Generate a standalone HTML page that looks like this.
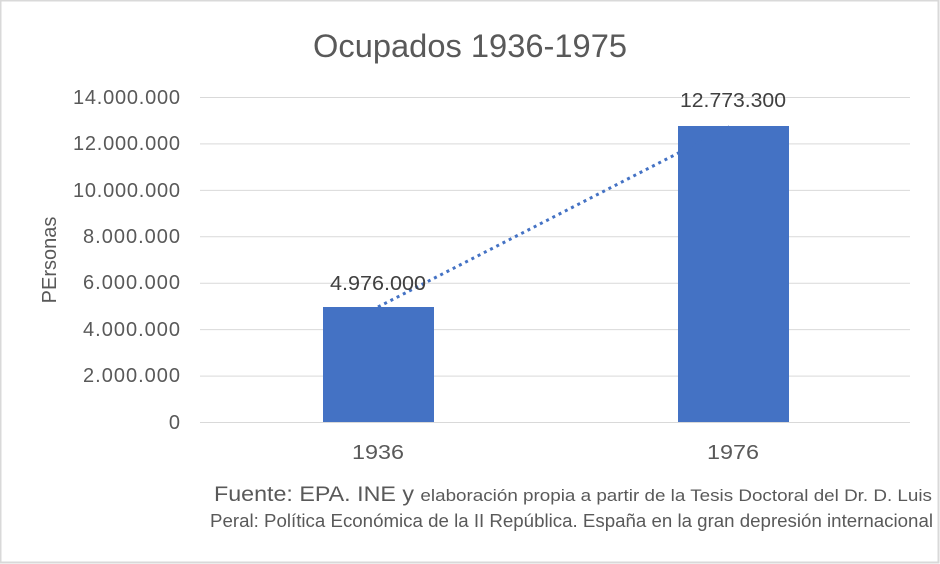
<!DOCTYPE html>
<html><head><meta charset="utf-8"><style>
html,body{margin:0;padding:0;background:#fff;}
svg{display:block;font-family:"Liberation Sans",sans-serif;}
</style></head><body>
<svg width="940" height="564" viewBox="0 0 940 564">
<rect x="0.5" y="0.5" width="938" height="562" fill="#fff" stroke="#d9d9d9" stroke-width="2"/>
<text x="470" y="57" text-anchor="middle" font-size="32" fill="#595959" textLength="314" lengthAdjust="spacingAndGlyphs">Ocupados 1936-1975</text>
<g stroke="#d9d9d9" stroke-width="1">
<line x1="200" x2="910" y1="97.5" y2="97.5"/>
<line x1="200" x2="910" y1="143.9" y2="143.9"/>
<line x1="200" x2="910" y1="190.4" y2="190.4"/>
<line x1="200" x2="910" y1="236.8" y2="236.8"/>
<line x1="200" x2="910" y1="283.2" y2="283.2"/>
<line x1="200" x2="910" y1="329.6" y2="329.6"/>
<line x1="200" x2="910" y1="376.1" y2="376.1"/>
<line x1="200" x2="910" y1="422.5" y2="422.5"/>
</g>
<g font-size="20" fill="#595959" text-anchor="end" lengthAdjust="spacingAndGlyphs">
<text x="180" y="104" textLength="107">14.000.000</text>
<text x="180" y="150" textLength="107">12.000.000</text>
<text x="180" y="197" textLength="107">10.000.000</text>
<text x="180" y="243" textLength="97">8.000.000</text>
<text x="180" y="289" textLength="97">6.000.000</text>
<text x="180" y="336" textLength="97">4.000.000</text>
<text x="180" y="382" textLength="97">2.000.000</text>
<text x="180" y="429">0</text>
</g>
<text transform="translate(56,260) rotate(-90)" text-anchor="middle" font-size="20" fill="#595959">PErsonas</text>
<rect x="323" y="307" width="111" height="115" fill="#4472c4"/>
<rect x="678" y="126" width="111" height="296" fill="#4472c4"/>
<line x1="378" y1="307" x2="733" y2="125" stroke="#4472c4" stroke-width="3" stroke-dasharray="3,4"/>
<text x="378" y="290" text-anchor="middle" font-size="20" fill="#404040" textLength="96" lengthAdjust="spacingAndGlyphs">4.976.000</text>
<text x="733" y="107" text-anchor="middle" font-size="20" fill="#404040" textLength="106" lengthAdjust="spacingAndGlyphs">12.773.300</text>
<text x="378" y="459" text-anchor="middle" font-size="20" fill="#595959" textLength="52" lengthAdjust="spacingAndGlyphs">1936</text>
<text x="733" y="459" text-anchor="middle" font-size="20" fill="#595959" textLength="52" lengthAdjust="spacingAndGlyphs">1976</text>
<text x="214" y="501" font-size="21" fill="#595959" textLength="718" lengthAdjust="spacingAndGlyphs">Fuente: EPA. INE y <tspan font-size="17">elaboración propia a partir de la Tesis Doctoral del Dr. D. Luis</tspan></text>
<text x="210" y="527" font-size="18" fill="#595959" textLength="723" lengthAdjust="spacingAndGlyphs">Peral: Política Económica de la II República. España en la gran depresión internacional</text>
</svg>
</body></html>
